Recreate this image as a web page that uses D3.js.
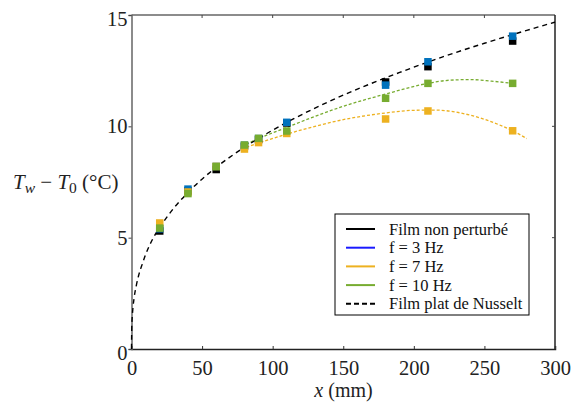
<!DOCTYPE html>
<html><head><meta charset="utf-8">
<script src="https://cdn.jsdelivr.net/npm/d3@7"></script>
<style>body{margin:0;background:#fff}svg{display:block}</style>
</head><body>
<svg id="c" width="574" height="410"></svg>
<script>
// ---- data ----
const xPos = [20, 40, 60, 80, 90, 110, 180, 210, 270];
const filmNonPerturbe = [5.30, 7.10, 8.06, 9.10, 9.40, 10.15, 11.99, 12.68, 13.83];
const f3Hz  = [5.40, 7.18, 8.20, 9.15, 9.45, 10.18, 11.85, 12.90, 14.05];
const f7Hz  = [5.66, 7.05, 8.20, 8.98, 9.27, 9.68, 10.33, 10.69, 9.80];
const f10Hz = [5.43, 6.98, 8.19, 9.16, 9.46, 9.79, 11.26, 11.93, 11.93];
const nusseltX = [0, 0.2, 0.5, 1, 2, 3.5, 5, 7.5, 10, 15, 20, 30, 40, 60, 80, 100, 130, 160, 190, 220, 250, 280, 300];
const nusseltY = [0, 1.0, 1.42, 1.83, 2.36, 2.88, 3.29, 3.79, 4.24, 4.94, 5.46, 6.33, 7.03, 8.16, 9.06, 9.83, 10.82, 11.67, 12.42, 13.11, 13.73, 14.31, 14.68];
const fit7X = [78, 90, 110, 130, 150, 180, 200, 215, 240, 260, 270, 280];
const fit7Y = [8.98, 9.25, 9.65, 10.0, 10.3, 10.6, 10.72, 10.73, 10.5, 10.08, 9.8, 9.45];
const fit10X = [78, 90, 110, 130, 150, 180, 210, 225, 240, 255, 270];
const fit10Y = [9.1, 9.45, 9.95, 10.45, 10.9, 11.45, 11.93, 12.07, 12.1, 12.03, 11.93];
const xTicks = [0, 50, 100, 150, 200, 250, 300];
const yTicks = [0, 5, 10, 15];
const legendLabels = ["Film non perturbé", "f = 3 Hz", "f = 7 Hz", "f = 10 Hz", "Film plat de Nusselt"];

const C = {black:"#000000", blue:"#0072BD", orange:"#EDB120", green:"#77AC30"};
const FONT = "'Liberation Serif', 'DejaVu Serif', serif";

const svg = d3.select("#c");
const x = d3.scaleLinear().domain([0, 300]).range([131.5, 555]);
const y = d3.scaleLinear().domain([0, 15]).range([349, 15]);

// frame top/right
svg.append("line").attr("x1", x(0)).attr("x2", x(300)).attr("y1", y(15)).attr("y2", y(15)).attr("stroke", "#666").attr("stroke-width", 1.5);
svg.append("line").attr("x1", x(300)).attr("x2", x(300)).attr("y1", y(15)).attr("y2", y(0)).attr("stroke", "#222").attr("stroke-width", 1.5);
svg.selectAll(".tt").data(xTicks.slice(1, -1)).join("line")
  .attr("x1", d => x(d)).attr("x2", d => x(d)).attr("y1", y(15)).attr("y2", y(15) + 3).attr("stroke", "#444");
svg.selectAll(".rt").data(yTicks.slice(1, -1)).join("line")
  .attr("x1", x(300)).attr("x2", x(300) - 3).attr("y1", d => y(d)).attr("y2", d => y(d)).attr("stroke", "#444");

// axes
const gx = svg.append("g").attr("transform", `translate(0,${y(0)})`)
  .call(d3.axisBottom(x).tickValues(xTicks).tickSize(-3).tickPadding(11).tickFormat(d3.format("d")));
gx.select(".domain").attr("stroke", "#222").attr("stroke-width", 1.5);
gx.selectAll(".tick line").attr("stroke", "#333");
gx.selectAll("text").attr("font-family", FONT).attr("font-size", 20.5).attr("fill", "#222");

const gy = svg.append("g").attr("transform", `translate(${x(0)},0)`)
  .call(d3.axisLeft(y).tickValues(yTicks).tickSize(3).tickPadding(1).tickFormat(d3.format("d")));
gy.select(".domain").attr("stroke", "#666").attr("stroke-width", 1.5);
gy.selectAll(".tick line").attr("stroke", "#444");
gy.selectAll("text").attr("font-family", FONT).attr("font-size", 20.5).attr("fill", "#222");
gy.selectAll(".tick").filter(d => d === 15).select("text").attr("dy", "0.5em");
gy.selectAll(".tick").filter(d => d === 0).select("text").attr("dy", "0.5em");

// curves
const line = d3.line().x(d => x(d[0])).y(d => y(d[1])).curve(d3.curveMonotoneX);
svg.append("path").datum(fit7X.map((v, i) => [v, fit7Y[i]])).attr("d", line)
  .attr("fill", "none").attr("stroke", C.orange).attr("stroke-width", 1.3).attr("stroke-dasharray", "3,2");
svg.append("path").datum(fit10X.map((v, i) => [v, fit10Y[i]])).attr("d", line)
  .attr("fill", "none").attr("stroke", C.green).attr("stroke-width", 1.3).attr("stroke-dasharray", "3,2");
svg.append("path").datum(nusseltX.map((v, i) => [v, nusseltY[i]])).attr("d", line)
  .attr("fill", "none").attr("stroke", "#000").attr("stroke-width", 1.4).attr("stroke-dasharray", "5,4");

// markers
const S = 7.5;
[[filmNonPerturbe, C.black], [f3Hz, C.blue], [f7Hz, C.orange], [f10Hz, C.green]].forEach(([vals, col]) => {
  svg.append("g").selectAll("rect").data(vals).join("rect")
    .attr("x", (d, i) => x(xPos[i]) - S / 2).attr("y", d => y(d) - S / 2)
    .attr("width", S).attr("height", S).attr("fill", col);
});

// axis titles
const xt = svg.append("text").attr("x", 343.5).attr("y", 397).attr("text-anchor", "middle")
  .attr("font-family", FONT).attr("font-size", 20).attr("fill", "#222");
xt.append("tspan").attr("font-style", "italic").text("x");
xt.append("tspan").text(" (mm)");

const yt = svg.append("text").attr("x", 13).attr("y", 189)
  .attr("font-family", FONT).attr("font-size", 21).attr("fill", "#222");
yt.append("tspan").attr("font-style", "italic").text("T");
yt.append("tspan").attr("font-style", "italic").attr("font-size", 15.5).attr("dy", 4).text("w");
yt.append("tspan").attr("dy", -4).text(" − ");
yt.append("tspan").attr("font-style", "italic").text("T");
yt.append("tspan").attr("font-size", 15.5).attr("dy", 4).text("0");
yt.append("tspan").attr("dy", -4).text(" (°C)");

// legend
const lg = svg.append("g");
lg.append("rect").attr("x", 335).attr("y", 214).attr("width", 194).attr("height", 101)
  .attr("fill", "#fff").attr("stroke", "#000").attr("stroke-width", 1);
const legCols = ["#000", "#1a1aff", C.orange, C.green, "#000"];
legendLabels.forEach((t, i) => {
  const yy = 229 + i * 18.7;
  lg.append("line").attr("x1", 346).attr("x2", 375).attr("y1", yy).attr("y2", yy)
    .attr("stroke", legCols[i]).attr("stroke-width", 2)
    .attr("stroke-dasharray", i === 4 ? "5,3" : null);
  lg.append("text").attr("x", 389).attr("y", yy + 5.5).attr("font-family", FONT).attr("font-size", 16.5)
    .attr("fill", "#111").text(t);
});
</script>
</body></html>
